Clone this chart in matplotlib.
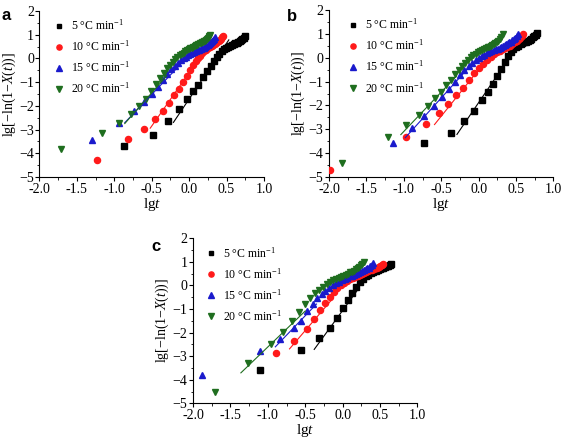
import matplotlib
matplotlib.use('Agg')
import matplotlib.pyplot as plt
from matplotlib.ticker import MultipleLocator, FormatStrFormatter

plt.rcParams['font.family'] = ['Liberation Serif', 'DejaVu Serif']
plt.rcParams['mathtext.fontset'] = 'custom'
plt.rcParams['mathtext.rm'] = 'Liberation Serif'
plt.rcParams['mathtext.it'] = 'Liberation Serif:italic'

rates = ['5', '10', '15', '20']
colors = ['#000000', '#ff1a1a', '#1a1acc', '#1f6e1f']
markers = ['s', 'o', '^', 'v']
msizes = [3.8, 4.4, 4.6, 4.6]

# ---- panel a : lg t and lg[-ln(1-X(t))] ----
a_x5 = [-0.867, -0.48, -0.276, -0.137, -0.032, 0.053, 0.124, 0.185, 0.238, 0.286, 0.328,
        0.367, 0.403, 0.436, 0.467, 0.496, 0.522, 0.548, 0.572, 0.594, 0.616, 0.636,
        0.656, 0.675, 0.693, 0.710, 0.727, 0.743]
a_y5 = [-3.69, -3.24, -2.63, -2.15, -1.70, -1.38, -1.10, -0.80, -0.55, -0.32, -0.12,
        0.05, 0.20, 0.32, 0.40, 0.46, 0.50, 0.54, 0.58, 0.61, 0.64, 0.67,
        0.70, 0.73, 0.77, 0.81, 0.87, 0.95]
a_x10 = [-1.237, -0.812, -0.602, -0.460, -0.354, -0.268, -0.196, -0.135, -0.081, -0.033,
         0.010, 0.049, 0.085, 0.118, 0.149, 0.178, 0.205, 0.230, 0.255, 0.277, 0.299,
         0.320, 0.339, 0.358, 0.376, 0.393, 0.410, 0.426, 0.441, 0.456]
a_y10 = [-4.27, -3.41, -2.99, -2.56, -2.20, -1.87, -1.55, -1.27, -0.98, -0.72,
         -0.48, -0.28, -0.12, 0.00, 0.12, 0.22, 0.30, 0.37, 0.43, 0.48, 0.53,
         0.57, 0.61, 0.66, 0.70, 0.74, 0.79, 0.84, 0.90, 0.96]
a_x15 = [-1.292, -0.932, -0.738, -0.604, -0.502, -0.419, -0.350, -0.290, -0.237, -0.190,
         -0.148, -0.110, -0.074, -0.041, -0.011, 0.017, 0.044, 0.069, 0.093, 0.116,
         0.137, 0.157, 0.177, 0.196, 0.213, 0.231, 0.247, 0.263, 0.279, 0.293,
         0.308, 0.322, 0.335, 0.348]
a_y15 = [-3.45, -2.72, -2.22, -1.85, -1.52, -1.20, -0.92, -0.66, -0.45, -0.30,
         -0.18, -0.08, 0.00, 0.07, 0.13, 0.18, 0.22, 0.26, 0.30, 0.34,
         0.37, 0.40, 0.43, 0.46, 0.50, 0.53, 0.57, 0.61, 0.65, 0.69,
         0.73, 0.78, 0.84, 0.91]
a_x20 = [-1.710, -1.167, -0.934, -0.783, -0.671, -0.582, -0.508, -0.445, -0.390, -0.341,
         -0.297, -0.257, -0.221, -0.187, -0.156, -0.127, -0.099, -0.074, -0.049, -0.026,
         -0.005, 0.016, 0.036, 0.055, 0.073, 0.091, 0.107, 0.124, 0.139, 0.154,
         0.169, 0.183, 0.196, 0.210, 0.222, 0.235, 0.247, 0.259, 0.270, 0.281]
a_y20 = [-3.83, -3.14, -2.72, -2.35, -1.99, -1.69, -1.38, -1.08, -0.83, -0.60,
         -0.42, -0.27, -0.14, -0.03, 0.06, 0.13, 0.19, 0.25, 0.30, 0.35,
         0.39, 0.43, 0.46, 0.49, 0.52, 0.55, 0.58, 0.60, 0.63, 0.65,
         0.68, 0.70, 0.73, 0.75, 0.78, 0.81, 0.85, 0.89, 0.94, 1.00]
# linear fits (slope n, intercept, x range)
a_fit_n = [4.7, 4.5, 3.3, 3.6]
a_fit_b = [-1.71, -0.60, 0.13, 0.35]
a_fit_x0 = [-0.21, -0.52, -0.86, -0.86]
a_fit_x1 = [0.53, 0.05, -0.15, -0.30]

# ---- panel b ----
b_x5 = [-0.73, -0.37, -0.19, -0.06, 0.04, 0.12, 0.19, 0.25, 0.30, 0.35, 0.39, 0.43, 0.465,
        0.50, 0.53, 0.56, 0.585, 0.61, 0.635, 0.66, 0.68, 0.70, 0.72, 0.74, 0.76, 0.78]
b_y5 = [-3.56, -3.15, -2.66, -2.23, -1.78, -1.43, -1.12, -0.78, -0.48, -0.18, 0.06, 0.25, 0.37,
        0.45, 0.51, 0.56, 0.60, 0.64, 0.68, 0.72, 0.76, 0.80, 0.85, 0.90, 0.97, 1.05]
b_x10 = [-1.99, -0.97, -0.70, -0.53, -0.41, -0.30, -0.21, -0.13, -0.06, 0.0, 0.06, 0.11,
         0.16, 0.205, 0.245, 0.285, 0.32, 0.355, 0.385, 0.415, 0.44, 0.465, 0.49, 0.515,
         0.535, 0.555, 0.575, 0.595]
b_y10 = [-4.69, -3.33, -2.78, -2.33, -1.95, -1.57, -1.25, -0.94, -0.66, -0.44, -0.25, -0.09,
         0.04, 0.14, 0.22, 0.29, 0.35, 0.41, 0.46, 0.51, 0.56, 0.61, 0.66, 0.72,
         0.78, 0.84, 0.92, 1.01]
b_x15 = [-1.15, -0.89, -0.73, -0.60, -0.49, -0.40, -0.32, -0.25, -0.19, -0.135, -0.085,
         -0.04, 0.0, 0.04, 0.075, 0.11, 0.14, 0.17, 0.20, 0.23, 0.255, 0.28, 0.305, 0.33,
         0.35, 0.37, 0.39, 0.41, 0.43, 0.45, 0.47, 0.49, 0.51, 0.53]
b_y15 = [-3.56, -2.96, -2.45, -2.03, -1.64, -1.29, -1.00, -0.74, -0.53, -0.36, -0.22,
         -0.11, -0.02, 0.06, 0.12, 0.18, 0.23, 0.27, 0.31, 0.35, 0.38, 0.42, 0.45, 0.49,
         0.52, 0.56, 0.60, 0.64, 0.68, 0.73, 0.78, 0.84, 0.91, 0.99]
b_x20 = [-1.82, -1.205, -0.965, -0.80, -0.68, -0.58, -0.50, -0.43, -0.37, -0.315, -0.265,
         -0.22, -0.18, -0.14, -0.105, -0.07, -0.04, -0.01, 0.02, 0.045, 0.07, 0.095, 0.12,
         0.14, 0.16, 0.18, 0.20, 0.22, 0.24, 0.26, 0.28, 0.30, 0.32]
b_y20 = [-4.43, -3.33, -2.82, -2.40, -2.03, -1.70, -1.42, -1.15, -0.92, -0.70, -0.50,
         -0.34, -0.20, -0.08, 0.02, 0.10, 0.17, 0.23, 0.28, 0.32, 0.36, 0.40, 0.43,
         0.46, 0.49, 0.52, 0.56, 0.60, 0.65, 0.71, 0.78, 0.87, 0.98]
b_fit_n = [4.6, 3.9, 3.47, 3.3]
b_fit_b = [-1.88, -0.50, 0.05, 0.21]
b_fit_x0 = [-0.29, -0.59, -0.98, -1.04]
b_fit_x1 = [0.33, 0.0, -0.15, -0.30]

# ---- panel c ----
c_x5 = [-1.10, -0.56, -0.315, -0.175, -0.08, 0.0, 0.07, 0.13, 0.18, 0.23, 0.27, 0.31, 0.345,
        0.38, 0.41, 0.44, 0.47, 0.495, 0.52, 0.545, 0.57, 0.59, 0.61, 0.63, 0.65]
c_y5 = [-3.60, -2.72, -2.24, -1.82, -1.39, -0.97, -0.62, -0.30, -0.06, 0.14, 0.28, 0.38, 0.46,
        0.52, 0.57, 0.62, 0.66, 0.69, 0.72, 0.75, 0.78, 0.81, 0.84, 0.87, 0.90]
c_x10 = [-0.89, -0.65, -0.48, -0.38, -0.30, -0.235, -0.175, -0.12, -0.07, -0.025, 0.02, 0.06,
         0.10, 0.135, 0.17, 0.20, 0.23, 0.26, 0.29, 0.315, 0.34, 0.365, 0.39, 0.415, 0.44,
         0.46, 0.48, 0.50, 0.52, 0.54]
c_y10 = [-2.88, -2.35, -1.84, -1.42, -1.06, -0.76, -0.50, -0.29, -0.12, 0.01, 0.11, 0.19,
         0.26, 0.32, 0.37, 0.42, 0.46, 0.50, 0.54, 0.58, 0.61, 0.64, 0.67, 0.70, 0.73,
         0.76, 0.79, 0.83, 0.87, 0.92]
c_x15 = [-1.877, -1.10, -0.835, -0.656, -0.56, -0.47, -0.40, -0.34, -0.28, -0.23, -0.18,
         -0.135, -0.09, -0.05, -0.01, 0.025, 0.06, 0.095, 0.125, 0.155, 0.185, 0.21, 0.235,
         0.26, 0.285, 0.31, 0.33, 0.35, 0.37, 0.39, 0.41]
c_y15 = [-3.80, -2.77, -2.28, -1.80, -1.49, -1.07, -0.80, -0.55, -0.36, -0.22, -0.10,
         0.0, 0.09, 0.16, 0.22, 0.28, 0.33, 0.38, 0.42, 0.46, 0.50, 0.53, 0.57,
         0.60, 0.64, 0.68, 0.72, 0.76, 0.81, 0.87, 0.94]
c_x20 = [-1.70, -1.27, -0.96, -0.80, -0.68, -0.58, -0.50, -0.43, -0.365, -0.31, -0.26, -0.215,
         -0.17, -0.13, -0.09, -0.055, -0.02, 0.01, 0.04, 0.07, 0.10, 0.125, 0.15, 0.175,
         0.20, 0.225, 0.245, 0.265, 0.285]
c_y20 = [-4.51, -3.31, -2.49, -1.97, -1.51, -1.11, -0.80, -0.55, -0.34, -0.18, -0.05, 0.05,
         0.14, 0.21, 0.27, 0.32, 0.36, 0.40, 0.44, 0.50, 0.55, 0.59, 0.63, 0.68,
         0.73, 0.79, 0.85, 0.92, 1.00]
c_fit_n = [4.35, 3.7, 3.3, 3.05]
c_fit_b = [-1.06, -0.064, 0.365, 0.44]
c_fit_x0 = [-0.38, -0.71, -0.90, -1.36]
c_fit_x1 = [0.20, -0.15, -0.35, -0.50]

panels = [
    ('a', [0.0699, 0.5977, 0.3973, 0.3773], [a_x5, a_x10, a_x15, a_x20], [a_y5, a_y10, a_y15, a_y20],
     a_fit_n, a_fit_b, a_fit_x0, a_fit_x1, (0.003, 0.955), (0.045, 0.985)),
    ('b', [0.5823, 0.5977, 0.3973, 0.3795], [b_x5, b_x10, b_x15, b_x20], [b_y5, b_y10, b_y15, b_y20],
     b_fit_n, b_fit_b, b_fit_x0, b_fit_x1, (0.508, 0.952), (0.065, 0.985)),
    ('c', [0.3416, 0.0834, 0.3973, 0.3750], [c_x5, c_x10, c_x15, c_x20], [c_y5, c_y10, c_y15, c_y20],
     c_fit_n, c_fit_b, c_fit_x0, c_fit_x1, (0.268, 0.43), (0.04, 0.985)),
]

fig = plt.figure(figsize=(5.65, 4.4), dpi=100)

for letter, rect, xs, ys, fn, fb, fx0, fx1, lpos, legpos in panels:
    ax = fig.add_axes(rect)
    handles = []
    for i in range(4):
        h, = ax.plot(xs[i], ys[i], linestyle='none', marker=markers[i], ms=msizes[i],
                     color=colors[i], mec=colors[i], zorder=3)
        handles.append(h)
        lx = [fx0[i], fx1[i]]
        ax.plot(lx, [fn[i] * v + fb[i] for v in lx], color=colors[i], lw=0.8, zorder=4)
    ax.set_xlim(-2.0, 1.0)
    ax.set_ylim(-5, 2)
    ax.xaxis.set_major_locator(MultipleLocator(0.5))
    ax.xaxis.set_minor_locator(MultipleLocator(0.25))
    ax.xaxis.set_major_formatter(FormatStrFormatter('%.1f'))
    ax.yaxis.set_major_locator(MultipleLocator(1))
    ax.yaxis.set_minor_locator(MultipleLocator(0.5))
    for s in ['top', 'right']:
        ax.spines[s].set_visible(False)
    for s in ['left', 'bottom']:
        ax.spines[s].set_linewidth(0.8)
    ax.tick_params(which='major', direction='out', length=3, width=0.8, labelsize=10, pad=1)
    ax.tick_params(which='minor', direction='out', length=1.8, width=0.6)
    ax.set_xlabel('lg$t$', fontsize=11, labelpad=0)
    ax.set_ylabel('lg[−ln(1−$X$($t$))]', fontsize=10, labelpad=1)
    labels = [f'{r} °C min$^{{-1}}$' for r in rates]
    ax.legend(handles, labels, loc='upper left', bbox_to_anchor=legpos, frameon=False,
              fontsize=8.5, handlelength=0.8, handletextpad=0.6, labelspacing=0.55,
              borderaxespad=0.0, markerscale=0.85)
    fig.text(lpos[0], lpos[1], letter, fontsize=12, fontweight='bold', family='Liberation Sans')

fig.savefig('out.png', dpi=100)
